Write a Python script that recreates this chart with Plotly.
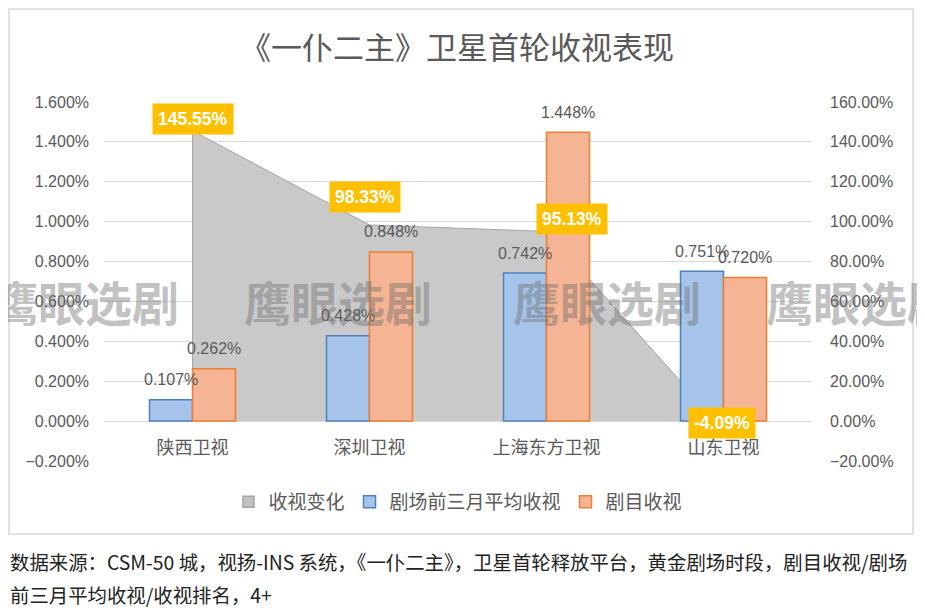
import plotly.graph_objects as go

# ---- data ----
categories = ["陕西卫视", "深圳卫视", "上海东方卫视", "山东卫视"]
change_pct = [145.55, 98.33, 95.13, -4.09]          # 收视变化 (right axis, %)
prev3m_avg = [0.107, 0.428, 0.742, 0.751]           # 剧场前三月平均收视 (left axis, %)
drama_rating = [0.262, 0.848, 1.448, 0.720]         # 剧目收视 (left axis, %)
series_names = ["收视变化", "剧场前三月平均收视", "剧目收视"]
title_text = "《一仆二主》卫星首轮收视表现"
watermark_text = "鹰眼选剧"
caption_lines = [
    "数据来源：CSM-50 城，视扬-INS 系统，《一仆二主》，卫星首轮释放平台，黄金剧场时段，剧目收视/剧场",
    "前三月平均收视/收视排名，4+",
]

# ---- layout geometry (page pixels; the page body has an 8px margin) ----
OFF = 8
W, H = 925 - 2 * OFF, 616 - 2 * OFF
RL, RR, RT, RB = 104, 812, 102, 461   # plot area in page pixels


def px_x(p):
    return (p - RL) / (RR - RL)


def px_y(p):
    return (RB - p) / (RB - RT)


GRAY = "#595959"
SANS = "Liberation Sans, Noto Sans CJK SC, sans-serif"
CJK = "Noto Sans CJK SC, sans-serif"

fig = go.Figure()

# area (primary y, right side) drawn first so bars sit on top; closed polygon down to 0
area_x = [categories[0]] + categories + [categories[-1]]
area_y = [0] + change_pct + [0]
fig.add_trace(go.Scatter(
    x=area_x, y=area_y, name=series_names[0], legendgroup="area",
    mode="lines", fill="toself",
    fillcolor="#C9C9C9", line=dict(color="#A5A5A5", width=1),
    yaxis="y", hoverinfo="skip", showlegend=False,
))
# legend entry for the area series (square swatch, as in the reference)
fig.add_trace(go.Scatter(
    x=[None], y=[None], name=series_names[0], legendgroup="area",
    mode="markers", yaxis="y",
    marker=dict(symbol="square", size=11, color="#C0C0C0",
                line=dict(color="#A5A5A5", width=1.5)),
))

fig.add_trace(go.Bar(
    x=categories, y=prev3m_avg, name=series_names[1], yaxis="y2",
    marker=dict(color="#A6C4EA", line=dict(color="#4F81BD", width=1.5)),
    offsetgroup="a", hoverinfo="skip",
))
fig.add_trace(go.Bar(
    x=categories, y=drama_rating, name=series_names[2], yaxis="y2",
    marker=dict(color="#F5B494", line=dict(color="#ED7D31", width=1.5)),
    offsetgroup="b", hoverinfo="skip",
))

annotations = []
# bar value labels
bar_half = 21.5
for vals, side in [(prev3m_avg, -1), (drama_rating, 1)]:
    for cat, v in zip(categories, vals):
        annotations.append(dict(
            x=cat, y=v, xref="x", yref="y2", text=f"{v:.3f}%",
            showarrow=False, xanchor="center", yanchor="middle",
            xshift=side * bar_half, yshift=20,
            font=dict(family=SANS, size=16, color=GRAY),
        ))

# data labels for the area series
label_shift = [(0, 12), (-5, 28), (25, 12), (-2, 6)]
for cat, v, (dx, dy) in zip(categories, change_pct, label_shift):
    annotations.append(dict(
        x=cat, y=v, xref="x", yref="y", text=f"<b>{v:.2f}%</b>",
        showarrow=False, xanchor="center", yanchor="middle",
        xshift=dx, yshift=dy,
        bgcolor="#FFC000", borderpad=5,
        font=dict(family=SANS, size=17.5, color="white"),
    ))

# watermarks
for cx in [85, 338, 607, 860]:
    annotations.append(dict(
        x=px_x(cx), y=px_y(300), xref="paper", yref="paper",
        xanchor="center", yanchor="middle",
        text=watermark_text, showarrow=False,
        font=dict(family=CJK, size=47, color="rgba(105,105,105,0.42)", weight="bold"),
    ))

# caption below the chart frame
for line, py in zip(caption_lines, [561, 594]):
    annotations.append(dict(
        x=px_x(8), y=px_y(py), xref="paper", yref="paper",
        xanchor="left", yanchor="middle", align="left",
        text=line, showarrow=False,
        font=dict(family=CJK, size=19.4, color="#222222"),
    ))

fig.update_layout(
    width=W, height=H, autosize=False,
    margin=dict(l=RL - OFF, r=(925 - OFF) - RR, t=RT - OFF, b=(616 - OFF) - RB),
    paper_bgcolor="white", plot_bgcolor="white",
    title=dict(text=title_text, x=px_x(457), xref="paper", xanchor="center",
               y=1 - (48 - OFF) / H, yanchor="middle",
               font=dict(family=CJK, size=31, color=GRAY)),
    barmode="group", bargap=0.514, bargroupgap=0,
    xaxis=dict(type="category", anchor="free", position=px_y(421),
               showline=False, ticks="", showgrid=False,
               tickfont=dict(family=CJK, size=18, color=GRAY),
               ticklabelstandoff=14),
    yaxis=dict(side="right", range=[-20, 160], dtick=20, tick0=0,
               tickformat=".2f", ticksuffix="%",
               showgrid=True, gridcolor="#D9D9D9", gridwidth=1,
               zeroline=False, showline=False,
               tickfont=dict(family=SANS, size=16, color=GRAY),
               ticklabelstandoff=17),
    yaxis2=dict(overlaying="y", side="left", range=[-0.2, 1.6], dtick=0.2, tick0=0,
                tickformat=".3f", ticksuffix="%",
                showgrid=False, zeroline=False, showline=False,
                tickfont=dict(family=SANS, size=16, color=GRAY),
                ticklabelstandoff=14),
    legend=dict(orientation="h", x=px_x(458), xanchor="center",
                y=px_y(502), yanchor="middle",
                font=dict(family=CJK, size=19, color=GRAY),
                itemwidth=30, traceorder="normal"),
    annotations=annotations,
    shapes=[dict(type="rect", xref="paper", yref="paper",
                 x0=px_x(9), x1=px_x(913), y0=px_y(534), y1=px_y(9),
                 line=dict(color="#D9D9D9", width=1.5), layer="below")],
)

fig.write_html("out.html", config={"displayModeBar": False})
